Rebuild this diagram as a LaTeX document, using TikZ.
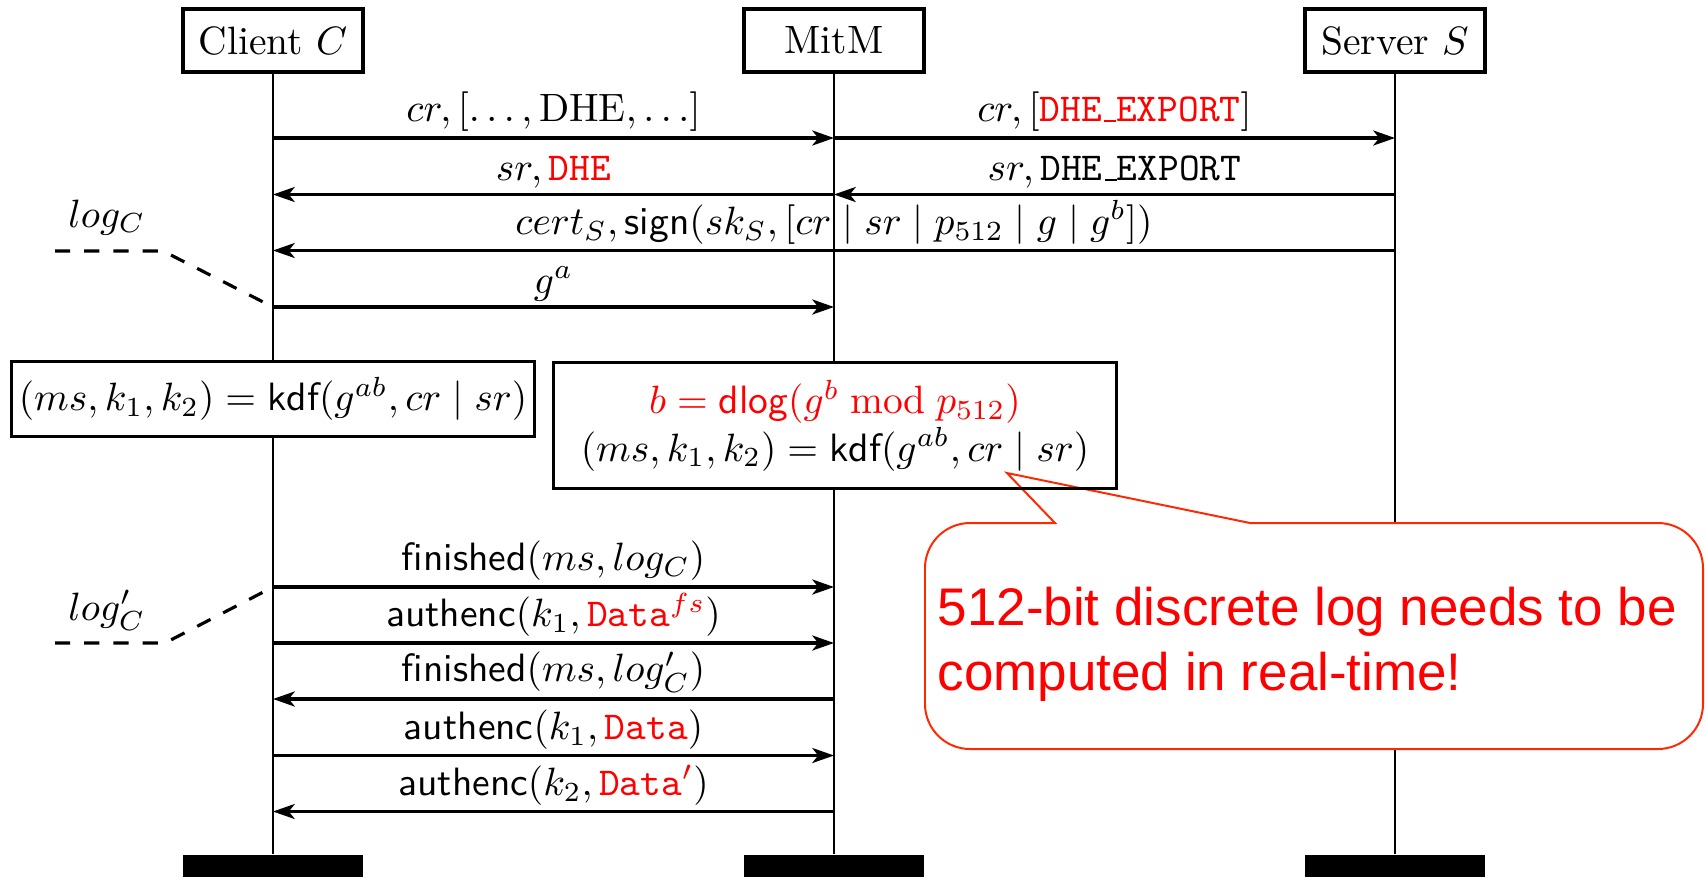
\documentclass[tikz,border=0pt]{standalone}
\usepackage{fontspec}
\newfontfamily\arialf{Liberation Sans}
\usetikzlibrary{arrows.meta}
\definecolor{callred}{RGB}{255,40,0}
\newcommand\lowbar{\leavevmode\kern.06em\vbox{\hrule width.3em}}
\begin{document}
\begin{tikzpicture}[x=0.253pt,y=-0.253pt,
  actor/.style={draw, line width=0.8pt, fill=white, minimum width=180*0.253pt, minimum height=63*0.253pt, inner sep=0pt},
  endbar/.style={fill=black, minimum width=180*0.253pt, minimum height=22*0.253pt, inner sep=0pt},
  life/.style={line width=0.5pt},
  msg/.style={line width=0.8pt, -{Stealth[length=5.5pt,width=3.8pt,inset=1.5pt]}},
  lab/.style={midway, above, inner sep=1.2pt},
  logline/.style={line width=0.8pt, dash pattern=on 3.8pt off 3.6pt},
  calcbox/.style={draw, line width=0.8pt, fill=white, inner sep=0pt, outer sep=0pt, align=center},
  callout/.style={draw=callred, line width=0.5pt, fill=white},
  calltext/.style={text=red, font=\arialf\fontsize{13.4}{16.4}\selectfont, anchor=base west, inner sep=0pt}]
\useasboundingbox (0,0) rectangle (1707,877);
\fill[white] (0,0) rectangle (1707,877);

% actors
\node[actor] (C) at (273,40.5) {Client $C$};
\node[actor] (M) at (834,40.5) {MitM};
\node[actor] (S) at (1395,40.5) {Server $S$};
\node[endbar] (Ce) at (273,866) {};
\node[endbar] (Me) at (834,866) {};
\node[endbar] (Se) at (1395,866) {};
\draw[life] (C) -- (Ce);
\draw[life] (M) -- (Me);
\draw[life] (S) -- (Se);

% message anchor points
\coordinate (C1) at (273,138);   \coordinate (M1) at (834,138);   \coordinate (S1) at (1395,138);
\coordinate (C2) at (273,194.5); \coordinate (M2) at (834,194.5); \coordinate (S2) at (1395,194.5);
\coordinate (C3) at (273,250.5); \coordinate (S3) at (1395,250.5);
\coordinate (C4) at (273,307);   \coordinate (M4) at (834,307);
\coordinate (C5) at (273,587);   \coordinate (M5) at (834,587);
\coordinate (C6) at (273,643);   \coordinate (M6) at (834,643);
\coordinate (C7) at (273,699);   \coordinate (M7) at (834,699);
\coordinate (C8) at (273,755.5); \coordinate (M8) at (834,755.5);
\coordinate (C9) at (273,811.5); \coordinate (M9) at (834,811.5);

\draw[msg] (C1) -- node[lab] {$cr, [\ldots, \mathrm{DHE}, \ldots]$} (M1);
\draw[msg] (M1) -- node[lab] {$cr, [\textcolor{red}{\texttt{DHE\lowbar EXPORT}}]$} (S1);
\draw[msg] (M2) -- node[lab] {$sr, \textcolor{red}{\texttt{DHE}}$} (C2);
\draw[msg] (S2) -- node[lab] {$sr, \texttt{DHE\lowbar EXPORT}$} (M2);
\draw[msg] (S3) -- node[lab] {$cert_S, \mathsf{sign}(sk_S, [cr \mid sr \mid p_{512} \mid g \mid g^b])$} (C3);
\draw[msg] (C4) -- node[lab] {$g^a$} (M4);
\draw[msg] (C5) -- node[lab] {$\mathsf{finished}(ms, log_C)$} (M5);
\draw[msg] (C6) -- node[lab] {$\mathsf{authenc}(k_1, \textcolor{red}{\texttt{Data}^{fs}})$} (M6);
\draw[msg] (M7) -- node[lab] {$\mathsf{finished}(ms, log'_C)$} (C7);
\draw[msg] (C8) -- node[lab] {$\mathsf{authenc}(k_1, \textcolor{red}{\texttt{Data}})$} (M8);
\draw[msg] (M9) -- node[lab] {$\mathsf{authenc}(k_2, \textcolor{red}{\texttt{Data}'})$} (C9);

% log markers
\coordinate (La) at (55,251);  \coordinate (Lb) at (163,251);
\coordinate (Lc) at (55,643);  \coordinate (Ld) at (165,643);
\draw[logline] (La) -- (Lb) -- (C4);
\draw[logline] (Lc) -- (Ld) -- (C5);
\node[anchor=base, inner sep=0pt] (logC) at (107,227) {$log_C$};
\node[anchor=base, inner sep=0pt] (logCp) at (107,620) {$log'_C$};

% computation boxes
\node[calcbox, minimum width=523*0.253pt, minimum height=75*0.253pt] (kC) at (273,399)
  {$(ms, k_1, k_2) = \mathsf{kdf}(g^{ab}, cr \mid sr)$};
\node[calcbox, minimum width=563*0.253pt, minimum height=126*0.253pt] (kM) at (835,425.5)
  {\textcolor{red}{$b = \mathsf{dlog}(g^b \bmod p_{512})$}\\ $(ms, k_1, k_2) = \mathsf{kdf}(g^{ab}, cr \mid sr)$};

% callout
\coordinate (tip) at (1007,473);
\coordinate (pa) at (1055,523);
\coordinate (pb) at (1250,523);
\coordinate (q0) at (1400,523);
\coordinate (q1) at (1703,523);
\coordinate (q2) at (1703,749);
\coordinate (q3) at (925,749);
\coordinate (q4) at (925,523);
\draw[callout] (q0) [rounded corners=11.4pt] -- (q1) -- (q2) -- (q3) -- (q4) [sharp corners] -- (pa) -- (tip) -- (pb) -- cycle;
\draw[line width=0.8pt] (kM.south west) rectangle (kM.north east);
\node[calltext] (t1) at (937,625) {512-bit discrete log needs to be};
\node[calltext] (t2) at (937,690) {computed in real-time!};
\end{tikzpicture}
\end{document}
